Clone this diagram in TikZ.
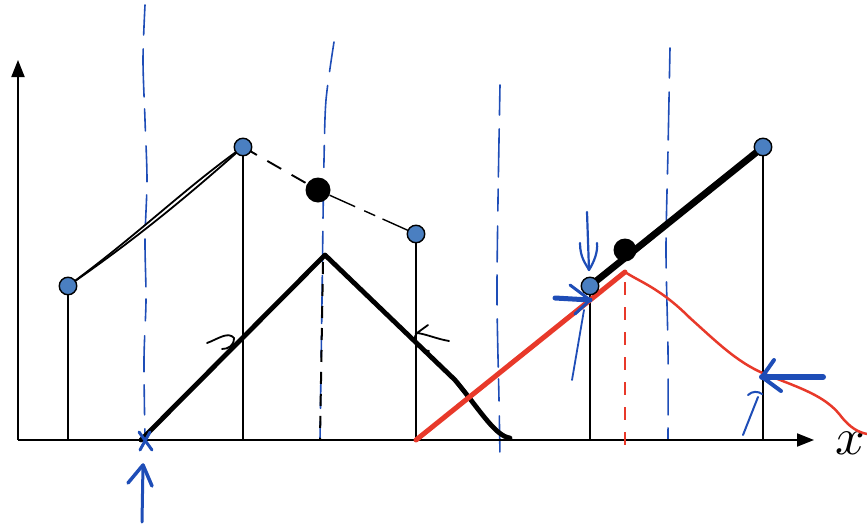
\documentclass[tikz,border=0pt]{standalone}
\usetikzlibrary{arrows.meta}
\definecolor{ptblue}{HTML}{4A7FC1}
\definecolor{penblue}{HTML}{1E4DB7}
\definecolor{penred}{HTML}{E8392A}
\begin{document}
\begin{tikzpicture}[x=1pt,y=-1pt,
  axisline/.style={line width=2pt,-{Triangle[length=17pt,width=13pt]}},
  stem/.style={line width=1.8pt},
  ptnode/.style={circle,fill=ptblue,draw=black,line width=1.4pt,minimum size=17.5pt,inner sep=0pt},
  blobnode/.style={circle,fill=black,minimum size=25pt,inner sep=0pt},
  bluedash/.style={penblue,line width=1.6pt,line cap=round,dash pattern=on 30pt off 14pt on 48pt off 12pt on 22pt off 15pt on 36pt off 13pt},
  pen/.style={penblue,line cap=round,line join=round},
  hat/.style={line width=4.8pt,line cap=round,line join=round},
  hook/.style={line width=1.8pt,line cap=round}
]
\useasboundingbox (0,0) rectangle (867,525);

% coordinates
\coordinate (O) at (18,440);
\coordinate (xend) at (814,440);
\coordinate (yend) at (18,60);
\coordinate (c1) at (68,286);
\coordinate (c2) at (243,147);
\coordinate (c3) at (416,234);
\coordinate (c4) at (590,286);
\coordinate (c5) at (763,147);
\coordinate (b1) at (68,440);
\coordinate (b2) at (243,440);
\coordinate (b3) at (416,440);
\coordinate (b4) at (590,440);
\coordinate (b5) at (763,440);

% blue dashed verticals
\draw[bluedash] plot[smooth] coordinates {(145,5) (143,60) (145,120) (147,180) (145,240) (146,300) (144,360) (145,440)};
\draw[bluedash] plot[smooth] coordinates {(334,42) (326,100) (324,160) (323,220) (322,300) (320,440)};
\draw[bluedash] plot[smooth] coordinates {(500,85) (498,200) (497,300) (499,400) (500,456)};
\draw[bluedash] plot[smooth] coordinates {(670,48) (668,150) (666,250) (668,350) (668,440)};

% axes
\draw[axisline] (O) -- (xend);
\draw[axisline] (O) -- (yend);
\node[scale=5.2] (xl) at (850,443) {$x$};

% stems
\foreach \i in {1,...,5} {\draw[stem] (c\i) -- (b\i);}

% black hat
\coordinate (h0) at (141,440);
\coordinate (hpk) at (325,255);
\coordinate (hr1) at (455,380);
\coordinate (hr2) at (510,438);
\draw[hat] (h0) -- (hpk) -- (hr1) .. controls (480,410) and (495,436) .. (hr2);
\draw[line width=2pt,dash pattern=on 12pt off 10pt] (323,262) -- (320,440);

% hooks on black hat
\coordinate (k1a) at (207,343);
\coordinate (k1b) at (234,338);
\draw[hook] (k1a) .. controls (218,339) and (228,331) .. (k1b) .. controls (234,346) and (228,349) .. (222,349);
\coordinate (k2a) at (449,341);
\coordinate (k2b) at (417,333);
\draw[hook] (k2a) .. controls (437,339) and (426,334) .. (k2b) -- (428,325);
\draw[hook] (k2b) .. controls (411,340) and (417,350) .. (429,351);

% red hat
\coordinate (r0) at (416,440);
\coordinate (rpk) at (625,272);
\draw[penred,line width=5pt,line cap=round] (r0) -- (rpk);
\draw[penred,line width=2.5pt,line cap=round] (rpk) .. controls (640,282) and (660,288) .. (690,318) .. controls (720,345) and (740,365) .. (770,376) .. controls (800,388) and (825,396) .. (840,415) .. controls (850,428) and (858,432) .. (867,434);
\draw[penred,line width=1.5pt,dash pattern=on 13pt off 12pt] (625,282) -- (625,452);

% segment 1-2 (double hand stroke)
\draw[line width=1.8pt,line cap=round] (c1) .. controls (130,243) and (180,203) .. (c2);
\draw[line width=1.8pt,line cap=round] (c1) .. controls (140,233) and (185,188) .. (c2);

% segment 2-3 dashed with blob
\node[blobnode] (bA) at (318,190) {};
\draw[line width=1.9pt,dash pattern=on 16pt off 12pt] (c2) -- (bA);
\draw[line width=1.4pt,dash pattern=on 28pt off 10pt on 12pt off 8pt] (bA) -- (c3);

% segment 4-5 thick with blob
\draw[line width=6.8pt,line cap=round] (c4) -- (c5);
\node[blobnode,minimum size=23pt] (bB) at (625,250) {};

% points
\node[ptnode] (p1) at (c1) {};
\node[ptnode] (p2) at (c2) {};
\node[ptnode] (p3) at (c3) {};
\node[ptnode] (p4) at (c4) {};
\node[ptnode] (p5) at (c5) {};

% blue pen marks
\draw[pen,line width=3pt] (139,432) -- (152,450);
\draw[pen,line width=3pt] (150,432) -- (140,450);
\coordinate (a1s) at (142,522);
\coordinate (a1e) at (143,465);
\draw[pen,line width=3pt] (a1s) -- (a1e);
\draw[pen,line width=3.5pt] (128,483) -- (a1e) -- (152,486);
\coordinate (a2s) at (587,212);
\coordinate (a2e) at (589,270);
\draw[pen,line width=2.2pt] (a2s) -- (a2e);
\draw[pen,line width=2.2pt] (580,243) .. controls (580,258) and (586,264) .. (a2e) .. controls (594,262) and (598,252) .. (597,243);
\coordinate (a3s) at (555,298);
\coordinate (a3e) at (590,300);
\draw[pen,line width=5pt] (a3s) -- (a3e);
\draw[pen,line width=3pt] (570,285) -- (a3e) -- (575,314);
\coordinate (a4s) at (572,380);
\coordinate (a4e) at (584,310);
\draw[pen,line width=1.8pt] (a4s) -- (a4e);
\coordinate (a5s) at (823,377);
\coordinate (a5e) at (762,377);
\draw[pen,line width=6pt] (a5s) -- (a5e);
\draw[pen,line width=4pt] (774,360) -- (a5e) -- (781,391);
\coordinate (a6s) at (743,435);
\coordinate (a6e) at (758,397);
\draw[pen,line width=2pt] (a6s) -- (a6e);
\draw[pen,line width=2pt] (748,395) .. controls (752,391) and (758,391) .. (762,394);
\end{tikzpicture}
\end{document}
